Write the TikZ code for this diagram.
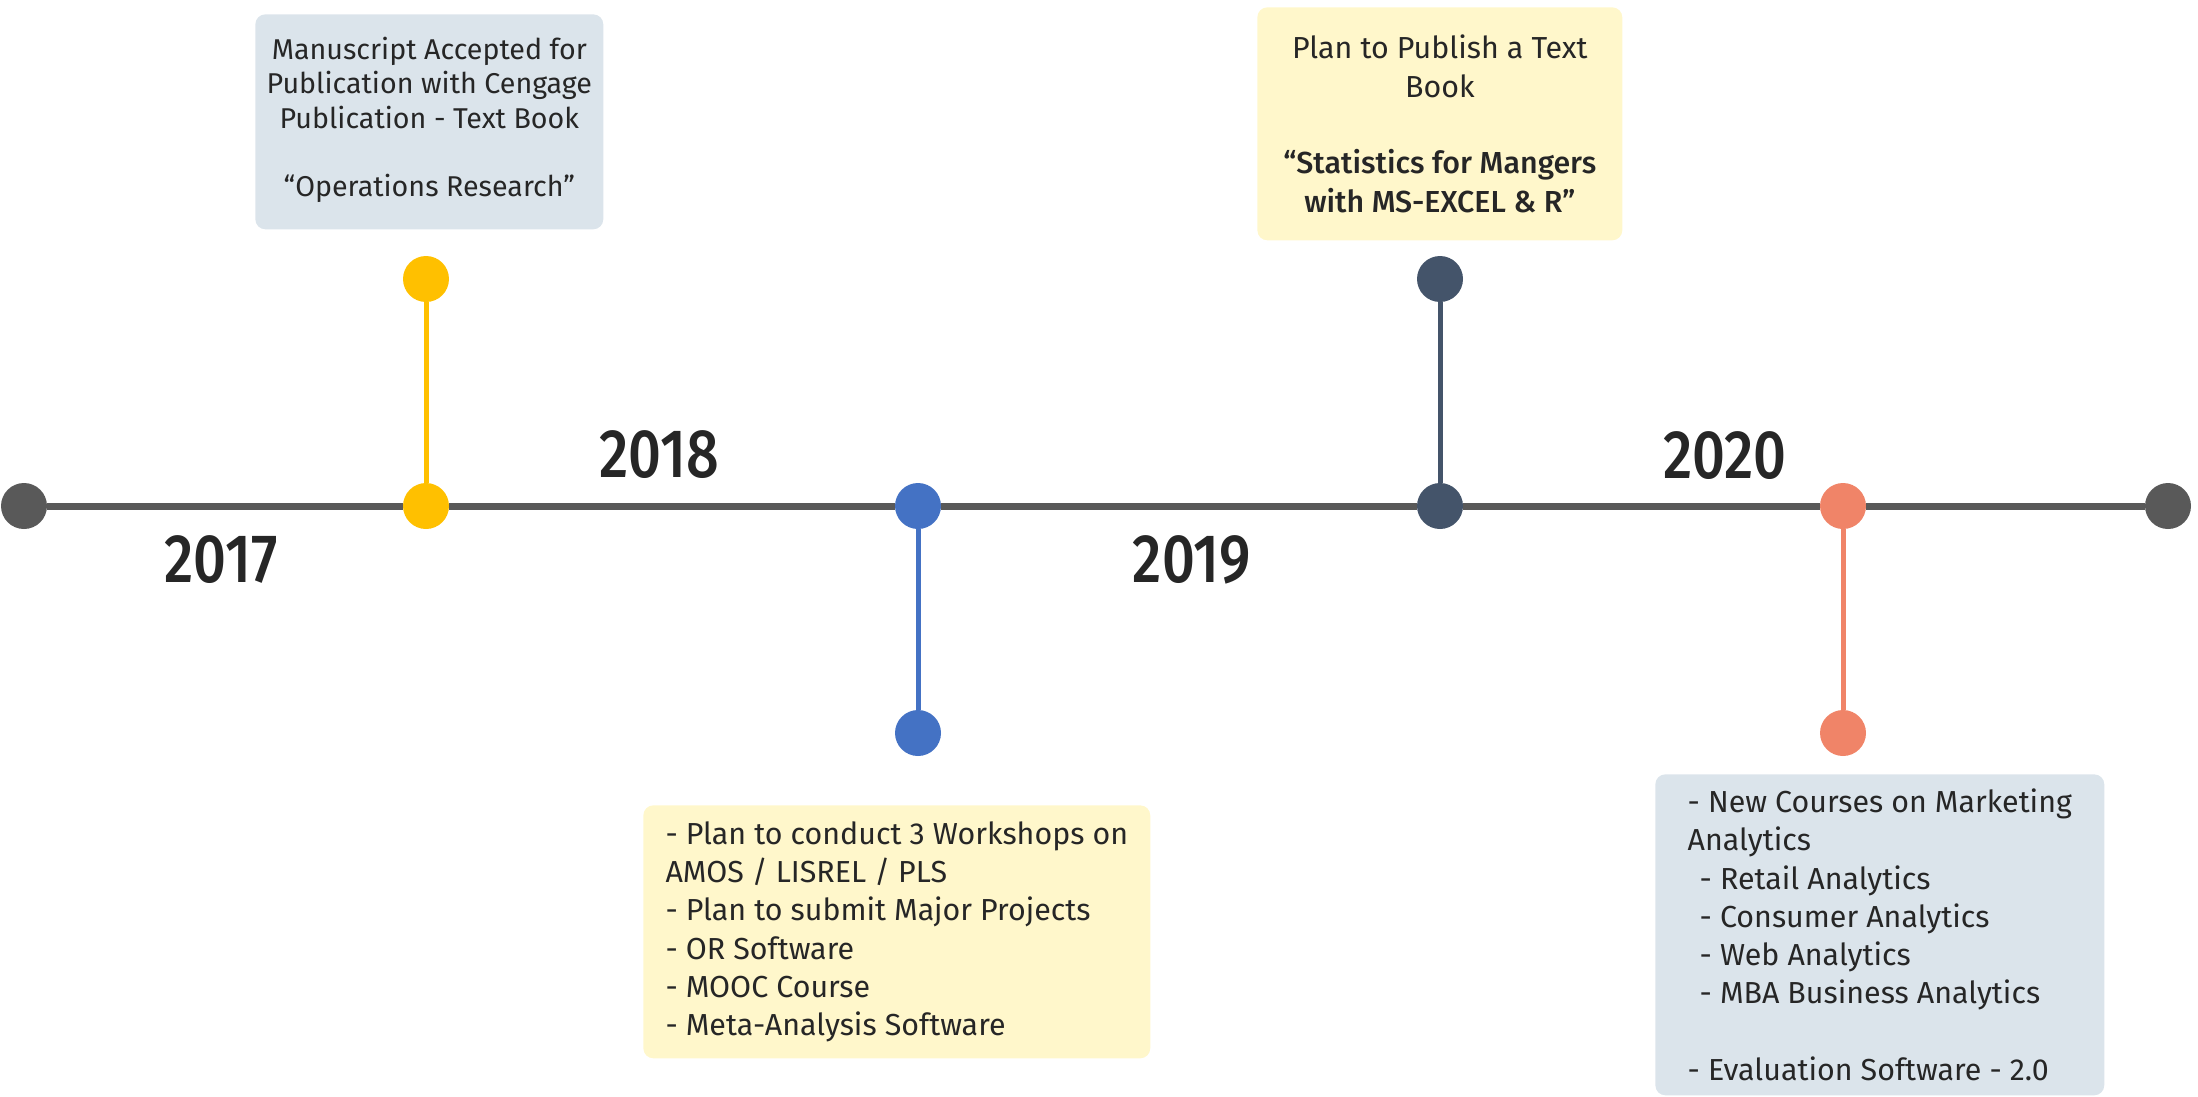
\documentclass[tikz,border=0pt]{standalone}
\usepackage{fontspec}
\setmainfont{Fira Sans}
\newfontfamily\yearfont[FakeStretch=0.84]{Fira Sans Medium}
\newfontfamily\medfont{Fira Sans Medium}
\usetikzlibrary{positioning}
\definecolor{ink}{HTML}{262626}
\definecolor{axisgrey}{HTML}{595959}
\definecolor{gold}{HTML}{FFC000}
\definecolor{royal}{HTML}{4472C4}
\definecolor{navy}{HTML}{44546A}
\definecolor{salmon}{HTML}{F08468}
\definecolor{mistbox}{HTML}{DBE4EB}
\definecolor{creambox}{HTML}{FFF7CB}
\tikzstyle{dot} = [circle, minimum size=0.92cm, inner sep=0pt]
\tikzstyle{axis} = [line width=0.14cm, draw=axisgrey]
\tikzstyle{stem} = [line width=0.1cm]
\tikzstyle{year} = [font=\yearfont\fontsize{39}{39}\selectfont, text=ink]
\tikzstyle{note} = [rounded corners=0.2cm, anchor=north west, inner sep=0pt, text=ink, font=\fontsize{17.3}{21.8}\selectfont]

\begin{document}
\begin{tikzpicture}[x=0.02cm, y=-0.02cm]
		\useasboundingbox (0,0) rectangle (2198,1096);
		% timeline dots
		\node (start) [dot, fill=axisgrey] at (24,506) {};
		\node (m17) [dot, fill=gold] at (426,506) {};
		\node (m18) [dot, fill=royal] at (918,506) {};
		\node (m19) [dot, fill=navy] at (1440,506) {};
		\node (m20) [dot, fill=salmon] at (1843,506) {};
		\node (stop) [dot, fill=axisgrey] at (2168,506) {};
		\node (t17) [dot, fill=gold] at (426,279) {};
		\node (t18) [dot, fill=royal] at (918,733) {};
		\node (t19) [dot, fill=navy] at (1440,279) {};
		\node (t20) [dot, fill=salmon] at (1843,733) {};
		\draw [axis] (start) -- (m17) -- (m18) -- (m19) -- (m20) -- (stop);
		\draw [stem, draw=gold] (t17) -- (m17);
		\draw [stem, draw=royal] (m18) -- (t18);
		\draw [stem, draw=navy] (t19) -- (m19);
		\draw [stem, draw=salmon] (m20) -- (t20);
		% years
		\node (y17) [year] at (221,560) {2017};
		\node (y18) [year] at (659,455) {2018};
		\node (y19) [year] at (1192,560) {2019};
		\node (y20) [year] at (1725,456) {2020};
		% notes
		\node (n17) [note, fill=mistbox, minimum width=6.96cm, minimum height=4.3cm, align=center, font=\fontsize{16.3}{19.6}\selectfont] at (255,14)
			{Manuscript Accepted for\\Publication with Cengage\\Publication - Text Book\\[19.6pt]“Operations Research”\\[-14pt]};
		\node (n19) [note, fill=creambox, minimum width=7.3cm, minimum height=4.66cm, align=center] at (1257,7)
			{Plan to Publish a Text\\Book\\[21.8pt]\medfont “Statistics for Mangers\\\medfont with MS-EXCEL \& R”};
		\node (n18) [note, fill=creambox, minimum width=10.14cm, minimum height=5.06cm, align=left] at (643,805)
			{- Plan to conduct 3 Workshops on\\AMOS / LISREL / PLS\\- Plan to submit Major Projects\\- OR Software\\- MOOC Course\\- Meta-Analysis Software};
		\node (n20) [note, fill=mistbox, minimum width=8.98cm, minimum height=6.42cm, align=left] at (1655,774)
			{- New Courses on Marketing\\Analytics\\\hspace*{0.24cm}- Retail Analytics\\\hspace*{0.24cm}- Consumer Analytics\\\hspace*{0.24cm}- Web Analytics\\\hspace*{0.24cm}- MBA Business Analytics\\[21.8pt]- Evaluation Software - 2.0};
\end{tikzpicture}
\end{document}
